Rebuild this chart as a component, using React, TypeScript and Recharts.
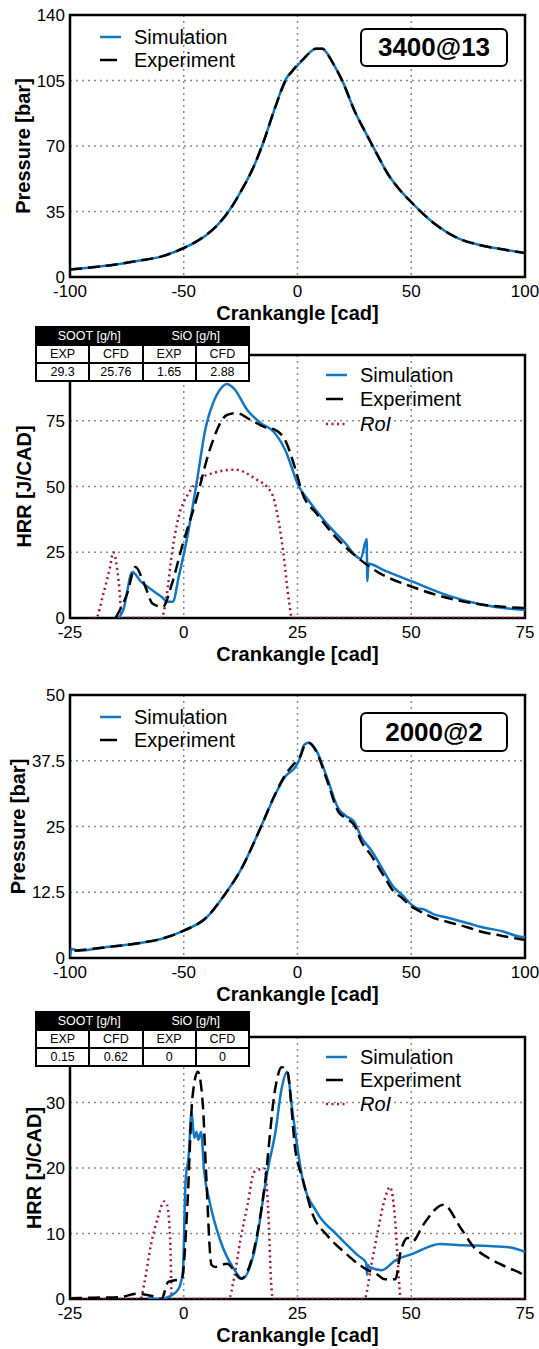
import React from 'react';
import { LineChart, Line, XAxis, YAxis, CartesianGrid, ReferenceArea } from 'recharts';

const FONT = '"Liberation Sans", Arial, Helvetica, sans-serif';
const SIM_COLOR = '#1176c3';
const EXP_COLOR = '#000000';
const ROI_COLOR = '#a3173a';

// ---------- Panel 1: 3400@13 cylinder pressure ----------
const p1Cad = [-100, -90, -80, -70, -60, -50, -45, -40, -35, -30, -25, -20, -15, -10, -5, -2, 0, 3, 5, 8, 11, 13, 15, 20, 25, 30, 35, 40, 45, 50, 55, 60, 70, 80, 90, 100];
const p1Sim = [4.0, 5.2, 6.7, 8.7, 10.9, 15.5, 18.5, 22.5, 28.0, 35.5, 45.5, 57, 72, 90, 106, 110.5, 113, 117, 119.5, 122, 122, 119.5, 115.5, 104, 89, 77, 65.5, 54.5, 46.5, 40, 34, 28.7, 21, 17.1, 14.8, 12.8];
const p1Exp = [4.0, 5.2, 6.7, 8.7, 10.9, 15.5, 18.6, 22.6, 28.0, 35.5, 45.5, 57, 72, 90, 105.5, 110.5, 113.5, 117, 119.5, 122, 122, 119.5, 115.5, 104, 89, 77, 65.5, 54.5, 46.5, 40, 34, 28.7, 21, 17.1, 14.8, 12.8];

// ---------- Panel 2: 3400@13 heat release rate ----------
const p2SimCad = [-14.3, -13.3, -11.3, -9.4, -7.2, -4.9, -3.5, -2.4, -1.1, 0.8, 2.7, 4.9, 6.5, 7.9, 9.5, 11, 14, 17, 19.7, 22.3, 25.3, 27.6, 31.4, 35.2, 38.9, 40.2, 40.35, 40.6, 44.2, 50.3, 57.8, 65.4, 75];
const p2SimHrr = [0, 3, 17.5, 13.8, 10.9, 8.1, 6.2, 6.2, 15.7, 31, 50, 73, 82, 86.7, 89, 87.3, 79, 74, 70.9, 63.9, 50, 44.3, 36, 29, 22.6, 30, 14, 20.6, 18, 13.8, 8.7, 5.1, 3];
const p2ExpCad = [-15, -12.5, -10.6, -8.7, -6.8, -4.6, -2.6, -0.4, 2.7, 5.7, 9.5, 11.7, 14.7, 17.8, 20, 22.3, 24.6, 26.1, 29.2, 33.7, 38.9, 42.6, 50.3, 57.8, 65.4, 73.7, 75];
const p2ExpHrr = [0, 9, 19.4, 13, 5.4, 4.2, 13, 27, 44.6, 63.9, 77.2, 77.9, 75.3, 72.6, 71.6, 67.6, 56.2, 47.3, 39.7, 30.2, 22, 17.5, 11.8, 7.7, 5.1, 3.9, 3.8];
const p2RoiCad = [-20, -19.3, -17.7, -16.2, -15.5, -14.3, -13.5, -4.9, -3.8, -2.6, -1.1, 1.1, 3.4, 6.4, 11.3, 15.5, 19.3, 20.8, 21.9, 23.1, 23.8, 75];
const p2RoiVal = [0, 0, 9, 19.4, 25, 14, 0, 0, 8, 24.6, 38.6, 47.5, 52.6, 55.1, 56.4, 53.2, 47.5, 37.3, 24.6, 6.8, 0, 0];

// ---------- Panel 3: 2000@2 cylinder pressure ----------
const p3SimCad = [-100, -99.3, -96, -85, -70, -60, -50, -40, -32.6, -25, -16, -10, -5.4, -0.8, 0.7, 2.9, 4.9, 8.2, 12.8, 18, 21, 24.9, 28, 32.4, 38.5, 42, 46, 50, 52.8, 55, 60, 65.7, 75, 80.8, 90, 98.9, 100];
const p3SimP = [0.2, 1.7, 1.4, 2.0, 2.8, 3.6, 5.2, 7.7, 11.7, 16.7, 25, 30.9, 34.5, 36.4, 37.6, 40.5, 40.9, 39.5, 34.5, 28.4, 27.1, 25.9, 23, 20.5, 16.1, 13.6, 12, 10.2, 9.4, 9.3, 8.3, 7.7, 6.6, 5.9, 5.1, 4.0, 4.0];
const p3ExpCad = [-98, -85, -70, -60, -50, -40, -32.6, -25, -16, -10, -5.4, -0.8, 1.5, 2.9, 4.9, 8.2, 12.8, 18, 21, 24.9, 28, 32.4, 38.5, 42, 46, 50, 52.8, 60, 65.7, 75, 80.8, 90, 100];
const p3ExpP = [1.4, 2.0, 2.8, 3.6, 5.2, 7.7, 11.7, 16.7, 25, 31, 34.8, 37.3, 38.6, 40.2, 40.9, 39.3, 34, 27.8, 26.6, 25.3, 22.2, 19.5, 15.2, 12.8, 11.4, 9.8, 9.1, 7.6, 6.9, 5.8, 5.0, 4.2, 3.4];

// ---------- Panel 4: 2000@2 heat release rate ----------
const p4SimCad = [-7.9, -5.4, -2.6, -1.1, -0.2, 0.4, 1.1, 1.7, 2.3, 2.8, 3.2, 3.8, 4.5, 5.7, 7.9, 11, 12.9, 15.5, 18.5, 20.1, 21.5, 22.7, 23.8, 26.1, 29.2, 33.7, 38.2, 40.1, 40.3, 40.5, 40.8, 43.5, 46.5, 50.3, 56.3, 61.6, 66.9, 71.5, 75];
const p4SimHrr = [0.1, 0, 0.6, 1.6, 4.1, 17.9, 22, 28.6, 24.6, 25.5, 24.3, 25.5, 19.4, 14.8, 9.2, 4.6, 3.1, 7.2, 19.9, 25.3, 32.1, 34.7, 29.1, 18.4, 13.3, 9.8, 6.7, 5.5, 3.7, 5.2, 4.9, 4.4, 5.9, 6.9, 8.4, 8.2, 8.1, 7.9, 7.2];
const p4ExpCad = [-25, -20, -14, -10.2, -7.2, -4.9, -3.4, -0.4, 0.8, 1.9, 3.1, 4.2, 4.9, 6.1, 6.9, 9.5, 12.6, 15.5, 17.8, 20.1, 21.5, 22.7, 24.6, 26.1, 28.4, 31.4, 35.2, 39.7, 42.6, 44.2, 46.5, 47.7, 49.2, 50.3, 52.6, 57.1, 60.9, 63.9, 66.9, 71.5, 74.1, 75];
const p4ExpHrr = [0.1, 0.2, 0.3, 0.8, 0.5, 0, 2.6, 3.1, 14.3, 30.7, 34.7, 29.6, 19.4, 5.2, 4.9, 5.4, 3.1, 7.7, 17.4, 32.1, 35.4, 34.9, 22.4, 18.4, 12.8, 9.8, 7.2, 4.7, 3.7, 3.0, 3.0, 7.3, 9.3, 8.8, 11.3, 14.4, 10.8, 7.8, 6.3, 4.7, 3.9, 3.4];
const p4RoiCad = [-25, -9.5, -8.7, -7.2, -5.7, -4.3, -3.7, -3, -2.6, 9.9, 11, 12.5, 14, 15.5, 17.8, 18.5, 19.3, 19.6, 39.7, 41.2, 42.6, 44.2, 45.3, 46.5, 47.1, 47.7, 75];
const p4RoiVal = [0, 0, 2.3, 8.3, 12.4, 14.9, 14.4, 9.3, 0, 0, 3, 9.2, 14.3, 19.4, 19.9, 14.3, 1.5, 0, 0, 5.1, 10.2, 15.3, 17.1, 11.7, 5.1, 0, 0];

// ---------- Axes, labels, tables ----------
const pressureXTicks = [-100, -50, 0, 50, 100];
const hrrXTicks = [-25, 0, 25, 50, 75];
const p1YTicks = [0, 35, 70, 105, 140];
const p2YTicks = [0, 25, 50, 75];
const p3YTicks = [0, 12.5, 25, 37.5, 50];
const p4YTicks = [0, 10, 20, 30];
const xAxisTitle = 'Crankangle [cad]';
const pressureTitle = 'Pressure [bar]';
const hrrTitle = 'HRR [J/CAD]';
const caseLabels = ['3400@13', '2000@2'];
const legendLabels = ['Simulation', 'Experiment', 'RoI'];
const tableGroups = ['SOOT [g/h]', 'SiO [g/h]'];
const tableCols = ['EXP', 'CFD', 'EXP', 'CFD'];
const p2TableValues = ['29.3', '25.76', '1.65', '2.88'];
const p4TableValues = ['0.15', '0.62', '0', '0'];

type Pt = { x: number; y: number };
type Kind = 'sim' | 'exp' | 'roi';
type Series = { data: Pt[]; kind: Kind; name: string };

function zip(xs: number[], ys: number[]): Pt[] {
  return xs.map((x, i) => ({ x, y: ys[i] }));
}

const styleFor: Record<Kind, { stroke: string; strokeWidth: number; strokeDasharray?: string }> = {
  sim: { stroke: SIM_COLOR, strokeWidth: 2.5 },
  exp: { stroke: EXP_COLOR, strokeWidth: 2.5, strokeDasharray: '12 6' },
  roi: { stroke: ROI_COLOR, strokeWidth: 2.5, strokeDasharray: '2 3.5' },
};

const XH = 50;
const YW = 62;
const ML = 8;
const MR = 14;

type PanelProps = {
  top: number;
  height: number;
  plotTop: number;
  plotBottom: number;
  xDomain: [number, number];
  xTicks: number[];
  yDomain: [number, number];
  yTicks: number[];
  yLabel: string;
  yLabelX: number;
  series: Series[];
};

function Panel(props: PanelProps) {
  const { top, height, plotTop, plotBottom, xDomain, xTicks, yDomain, yTicks, yLabel, yLabelX, series } = props;
  const marginTop = plotTop - top;
  const marginBottom = top + height - plotBottom - XH;
  const tickStyle = { fill: '#000', fontSize: 17, fontFamily: FONT };
  const titleStyle = { fill: '#000', fontSize: 20, fontWeight: 'bold' as const, fontFamily: FONT };
  return (
    <div style={{ position: 'absolute', left: 0, top, width: 539, height }}>
      <LineChart width={539} height={height} margin={{ top: marginTop, right: MR, bottom: marginBottom, left: ML }}>
        <CartesianGrid stroke="#8a8a8a" strokeWidth={1.5} strokeDasharray="2 4" />
        <XAxis
          type="number"
          dataKey="x"
          domain={xDomain}
          ticks={xTicks}
          allowDataOverflow
          height={XH}
          tickSize={0}
          tickMargin={8}
          axisLine={false}
          tick={tickStyle}
          label={{ value: xAxisTitle, position: 'insideBottom', offset: 7, style: titleStyle }}
        />
        <YAxis
          type="number"
          dataKey="y"
          domain={yDomain}
          ticks={yTicks}
          allowDataOverflow
          width={YW}
          tickSize={0}
          tickMargin={5}
          axisLine={false}
          tick={tickStyle}
          label={{ value: yLabel, angle: -90, position: 'insideLeft', offset: yLabelX - ML, style: { ...titleStyle, textAnchor: 'middle' } }}
        />
        <ReferenceArea
          x1={xDomain[0]}
          x2={xDomain[1]}
          y1={yDomain[0]}
          y2={yDomain[1]}
          fill="none"
          fillOpacity={0}
          stroke="#000"
          strokeWidth={2.5}
          ifOverflow="visible"
        />
        {series.map((s) => (
          <Line
            key={s.name}
            data={s.data}
            dataKey="y"
            type="monotone"
            dot={false}
            activeDot={false}
            isAnimationActive={false}
            {...styleFor[s.kind]}
          />
        ))}
      </LineChart>
    </div>
  );
}

function LegendRows({ sampleLeft, textLeft, rows }: { sampleLeft: number; textLeft: number; rows: { label: string; kind: Kind; cy: number }[] }) {
  return (
    <>
      {rows.map((r) => (
        <React.Fragment key={r.label}>
          <svg style={{ position: 'absolute', left: sampleLeft, top: r.cy - 3, width: 22, height: 6 }}>
            <line
              x1={0}
              x2={r.kind === 'exp' ? 17 : 21}
              y1={3}
              y2={3}
              stroke={styleFor[r.kind].stroke}
              strokeWidth={2.5}
              strokeDasharray={r.kind === 'roi' ? '2 3.5' : undefined}
            />
          </svg>
          <div
            style={{
              position: 'absolute',
              left: textLeft,
              top: r.cy - 12,
              height: 24,
              lineHeight: '24px',
              fontSize: 20,
              fontFamily: FONT,
              fontStyle: r.kind === 'roi' ? 'italic' : 'normal',
              color: '#000',
              whiteSpace: 'nowrap',
            }}
          >
            {r.label}
          </div>
        </React.Fragment>
      ))}
    </>
  );
}

function CaseBox({ top, height, text }: { top: number; height: number; text: string }) {
  return (
    <div
      style={{
        position: 'absolute',
        left: 360,
        top,
        width: 148,
        height,
        boxSizing: 'border-box',
        border: '2.5px solid #000',
        borderRadius: 6,
        background: '#fff',
        display: 'flex',
        alignItems: 'center',
        justifyContent: 'center',
        fontFamily: FONT,
        fontWeight: 'bold',
        fontSize: 26,
        color: '#000',
      }}
    >
      {text}
    </div>
  );
}

function ResultTable({ top, values }: { top: number; values: string[] }) {
  const cell: React.CSSProperties = {
    background: '#fff',
    height: 16,
    lineHeight: '16px',
    textAlign: 'center',
    color: '#000',
  };
  return (
    <div
      style={{
        position: 'absolute',
        left: 35,
        top,
        width: 215,
        boxSizing: 'border-box',
        border: '2px solid #000',
        background: '#000',
        display: 'grid',
        gridTemplateColumns: 'repeat(4, 1fr)',
        gap: 2,
        fontFamily: FONT,
        fontSize: 12.5,
      }}
    >
      {tableGroups.map((g) => (
        <div key={g} style={{ gridColumn: 'span 2', color: '#fff', textAlign: 'center', height: 16, lineHeight: '16px' }}>
          {g}
        </div>
      ))}
      {tableCols.map((c, i) => (
        <div key={'c' + i} style={cell}>
          {c}
        </div>
      ))}
      {values.map((v, i) => (
        <div key={'v' + i} style={cell}>
          {v}
        </div>
      ))}
    </div>
  );
}

export default function App() {
  const p1Series: Series[] = [
    { name: 'sim', kind: 'sim', data: zip(p1Cad, p1Sim) },
    { name: 'exp', kind: 'exp', data: zip(p1Cad, p1Exp) },
  ];
  const p2Series: Series[] = [
    { name: 'roi', kind: 'roi', data: zip(p2RoiCad, p2RoiVal) },
    { name: 'sim', kind: 'sim', data: zip(p2SimCad, p2SimHrr) },
    { name: 'exp', kind: 'exp', data: zip(p2ExpCad, p2ExpHrr) },
  ];
  const p3Series: Series[] = [
    { name: 'sim', kind: 'sim', data: zip(p3SimCad, p3SimP) },
    { name: 'exp', kind: 'exp', data: zip(p3ExpCad, p3ExpP) },
  ];
  const p4Series: Series[] = [
    { name: 'roi', kind: 'roi', data: zip(p4RoiCad, p4RoiVal) },
    { name: 'sim', kind: 'sim', data: zip(p4SimCad, p4SimHrr) },
    { name: 'exp', kind: 'exp', data: zip(p4ExpCad, p4ExpHrr) },
  ];

  return (
    <div style={{ position: 'absolute', left: 0, top: 0, width: 539, height: 1349, background: '#fff', overflow: 'hidden' }}>
      <Panel top={0} height={330} plotTop={15} plotBottom={277} xDomain={[-100, 100]} xTicks={pressureXTicks} yDomain={[0, 140]} yTicks={p1YTicks} yLabel={pressureTitle} yLabelX={23} series={p1Series} />
      <Panel top={330} height={345} plotTop={355} plotBottom={618} xDomain={[-25, 75]} xTicks={hrrXTicks} yDomain={[0, 100]} yTicks={p2YTicks} yLabel={hrrTitle} yLabelX={24} series={p2Series} />
      <Panel top={675} height={335} plotTop={695} plotBottom={958} xDomain={[-100, 100]} xTicks={pressureXTicks} yDomain={[0, 50]} yTicks={p3YTicks} yLabel={pressureTitle} yLabelX={18} series={p3Series} />
      <Panel top={1010} height={339} plotTop={1037} plotBottom={1299} xDomain={[-25, 75]} xTicks={hrrXTicks} yDomain={[0, 40]} yTicks={p4YTicks} yLabel={hrrTitle} yLabelX={34} series={p4Series} />

      <LegendRows sampleLeft={100} textLeft={134} rows={[
        { label: legendLabels[0], kind: 'sim', cy: 37 },
        { label: legendLabels[1], kind: 'exp', cy: 60 },
      ]} />
      <CaseBox top={28} height={39} text={caseLabels[0]} />

      <ResultTable top={326} values={p2TableValues} />
      <LegendRows sampleLeft={326} textLeft={360} rows={[
        { label: legendLabels[0], kind: 'sim', cy: 375 },
        { label: legendLabels[1], kind: 'exp', cy: 399 },
        { label: legendLabels[2], kind: 'roi', cy: 424 },
      ]} />

      <LegendRows sampleLeft={100} textLeft={134} rows={[
        { label: legendLabels[0], kind: 'sim', cy: 717 },
        { label: legendLabels[1], kind: 'exp', cy: 740 },
      ]} />
      <CaseBox top={712} height={40} text={caseLabels[1]} />

      <ResultTable top={1011} values={p4TableValues} />
      <LegendRows sampleLeft={326} textLeft={360} rows={[
        { label: legendLabels[0], kind: 'sim', cy: 1057 },
        { label: legendLabels[1], kind: 'exp', cy: 1080 },
        { label: legendLabels[2], kind: 'roi', cy: 1104 },
      ]} />
    </div>
  );
}
